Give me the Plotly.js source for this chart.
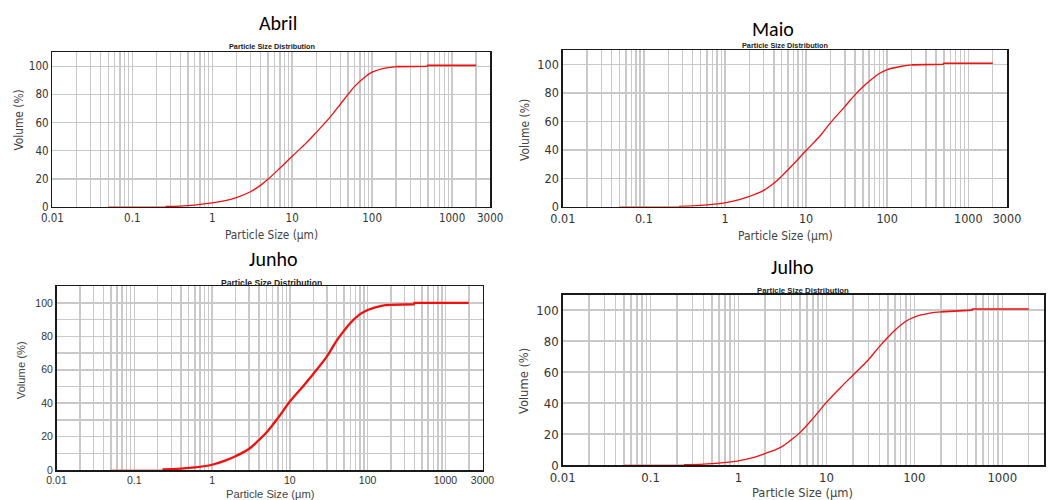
<!DOCTYPE html>
<html>
<head>
<meta charset="utf-8">
<script src="https://cdn.plot.ly/plotly-3.0.1.min.js"></script>
<style>html,body{margin:0;padding:0;background:#fff;}#chart{width:1059px;height:500px;}</style>
</head>
<body>
<div id="chart"></div>
<script>
// ---------------- DATA ----------------
const months = ["Abril", "Maio", "Junho", "Julho"];
const subtitle = "Particle Size Distribution";
const xTitle = "Particle Size (µm)";
const yTitle = "Volume (%)";

// x tick labels
const xLabelVals = [0.01, 0.1, 1, 10, 100, 1000, 3000];
const xLabelText = ["0.01", "0.1", "1", "10", "100", "1000", "3000"];
const yLabelVals = [0, 20, 40, 60, 80, 100];

// zero segment (lighter start of the curve)
const abrilLowX = [0.05, 0.26];  const abrilLowY = [0, 0];
const maioLowX  = [0.05, 0.27];  const maioLowY  = [0, 0];
const junhoLowX = [0.05, 0.23];  const junhoLowY = [0, 0];
const julhoLowX = [0.05, 0.24];  const julhoLowY = [0, 0];

// cumulative volume curves (rising part)
const abrilX = [0.26, 0.4, 0.6, 1, 1.5, 2, 3, 4, 5, 7, 10, 15, 20, 30, 40, 50, 60, 80, 100, 150, 200];
const abrilY = [0.3, 0.6, 1.3, 2.8, 4.6, 6.6, 10.8, 15.3, 19.8, 27.5, 36, 45.5, 53, 64, 73, 80, 85.5, 92, 95.8, 98.8, 99.8];
// plateau part
const abrilPX = [200, 490, 500, 1000, 2000];
const abrilPY = [99.8, 100, 100.7, 100.7, 100.7];

const maioX = [0.27, 0.4, 0.6, 1, 1.5, 2, 3, 4, 5, 7, 10, 15, 20, 30, 40, 50, 60, 80, 100, 150, 200];
const maioY = [0.3, 0.6, 1.3, 2.8, 5, 7.3, 11.5, 16.5, 21.5, 30, 39.5, 50, 59, 70.3, 78.5, 84, 88, 93.5, 96.2, 98.6, 99.5];
const maioPX = [200, 490, 500, 1000, 2000];
const maioPY = [99.5, 100, 100.7, 100.7, 100.7];

const junhoX = [0.23, 0.4, 0.6, 1, 1.5, 2, 3, 4, 5, 7, 10, 15, 20, 30, 40, 50, 60, 80, 100, 150, 200];
const junhoY = [0.4, 0.9, 1.6, 3.2, 5.8, 8.3, 12.8, 18, 22.5, 31, 41, 50.5, 57.5, 68, 77.5, 83.5, 88, 93.3, 95.8, 98.3, 98.8];
const junhoPX = [200, 300, 390, 400, 1000, 2000];
const junhoPY = [98.8, 99, 99.2, 100, 100, 100];

const julhoX = [0.24, 0.4, 0.6, 1, 1.5, 2, 3, 4, 5, 7, 10, 15, 20, 30, 40, 50, 60, 80, 100, 150, 200];
const julhoY = [0.3, 0.7, 1.4, 2.8, 5, 7.5, 11.5, 16.5, 21, 30, 40.5, 51, 58, 68, 76.5, 82.5, 87, 92.8, 95.5, 98, 98.8];
const julhoPX = [200, 300, 450, 460, 1000, 2000];
const julhoPY = [98.8, 99.5, 100, 100.7, 100.7, 100.7];

// ---------------- LAYOUT HELPERS ----------------
const W = 1059, H = 500;
const px = v => v / W;
const py = v => 1 - v / H;

// gridlines: every 1..9 multiple of each decade, plus 2000 and 3000
const decades = [0.01, 0.1, 1, 10, 100];
const mult = [1, 2, 3, 4, 5, 6, 7, 8, 9];
const xGridVals = [];
decades.forEach(d => mult.forEach(m => xGridVals.push(+(d * m).toPrecision(3))));
xGridVals.push(1000, 2000, 3000);
const xGridText = xGridVals.map(v => {
  const i = xLabelVals.indexOf(v);
  return i >= 0 ? xLabelText[i] : "";
});

// panel frames in pixels: [left, right, top, bottom]
const frames = [
  [52.4, 490.2, 52.2, 206.9],
  [562.8, 1007.0, 50.0, 206.8],
  [56.5, 482.5, 286.2, 470.1],
  [562.7, 1044.2, 294.6, 465.2]
];
const tickSize = [11.5, 12.5, 10.5, 13];
const tickFam = ['Tahoma, "DejaVu Sans Condensed", "Liberation Sans", sans-serif',
                 'Tahoma, "DejaVu Sans Condensed", "Liberation Sans", sans-serif',
                 'Arial, "Liberation Sans", sans-serif',
                 'Tahoma, "DejaVu Sans Condensed", "Liberation Sans", sans-serif'];
const lineW = [1.3, 1.3, 2.3, 1.3];
const yMinorStep = [20, 20, 10, 20];

const lowX = [abrilLowX, maioLowX, junhoLowX, julhoLowX];
const lowY = [abrilLowY, maioLowY, junhoLowY, julhoLowY];
const curX = [abrilX, maioX, junhoX, julhoX];
const curY = [abrilY, maioY, junhoY, julhoY];
const platX = [abrilPX, maioPX, junhoPX, julhoPX];
const platY = [abrilPY, maioPY, junhoPY, julhoPY];

const traces = [];
const layout = {
  width: W, height: H,
  margin: {l: 0, r: 0, t: 0, b: 0},
  paper_bgcolor: '#ffffff', plot_bgcolor: '#ffffff',
  showlegend: false,
  annotations: []
};

for (let i = 0; i < 4; i++) {
  const s = i === 0 ? '' : String(i + 1);
  const f = frames[i];
  const yGridVals = [];
  for (let v = 0; v <= 110; v += yMinorStep[i]) yGridVals.push(v);
  const yGridText = yGridVals.map(v => yLabelVals.indexOf(v) >= 0 ? String(v) : "");

  layout['xaxis' + s] = {
    type: 'log', domain: [px(f[0]), px(f[1])], anchor: 'y' + s,
    range: [Math.log10(0.01), Math.log10(3000)],
    tickmode: 'array', tickvals: xGridVals, ticktext: xGridText,
    showgrid: true, gridcolor: '#c9c9c9', gridwidth: 1.5,
    showline: true, linecolor: '#1a1a1a', linewidth: 1.5, mirror: true,
    ticks: '', zeroline: false, fixedrange: true,
    tickfont: {family: tickFam[i], size: tickSize[i], color: '#333333'}
  };
  layout['yaxis' + s] = {
    domain: [py(f[3]), py(f[2])], anchor: 'x' + s,
    range: [0, 110],
    tickmode: 'array', tickvals: yGridVals, ticktext: yGridText,
    showgrid: true, gridcolor: '#c9c9c9', gridwidth: 1.5,
    showline: true, linecolor: '#1a1a1a', linewidth: 1.5, mirror: true,
    ticks: '', zeroline: false, fixedrange: true,
    tickfont: {family: tickFam[i], size: tickSize[i], color: '#333333'}
  };

  traces.push({
    x: lowX[i], y: lowY[i], xaxis: 'x' + s, yaxis: 'y' + s,
    type: 'scatter', mode: 'lines', line: {color: '#ff6b6b', width: 1.4},
    hoverinfo: 'skip', cliponaxis: false
  });
  traces.push({
    x: curX[i], y: curY[i], xaxis: 'x' + s, yaxis: 'y' + s,
    type: 'scatter', mode: 'lines', line: {color: '#f01010', width: lineW[i], shape: 'spline', smoothing: 1},
    cliponaxis: false
  });
  traces.push({
    x: platX[i], y: platY[i], xaxis: 'x' + s, yaxis: 'y' + s,
    type: 'scatter', mode: 'lines', line: {color: '#f01010', width: lineW[i] + (i === 2 ? 0 : 0.4), shape: 'linear'},
    cliponaxis: false
  });
}

// text annotations: [x, y] pixel centers
const titlePos = [[278, 23], [773, 29], [272.7, 259], [792, 267]];
const subPos = [[271.5, 47], [785, 45.5], [271, 283], [803, 290.5]];
const subSize = [7.3, 7.3, 8.6, 7.8];
const xtPos = [[271, 235], [785.6, 236], [270, 494], [802.8, 492.5]];
const ytPos = [[18, 120.5], [525, 130], [20.5, 370.7], [523, 381]];
const axTitleSize = [11.8, 12, 11.2, 12.8];
const axTitleFam = ['Tahoma, "DejaVu Sans Condensed", "Liberation Sans", sans-serif',
                    'Tahoma, "DejaVu Sans Condensed", "Liberation Sans", sans-serif',
                    'Arial, "Liberation Sans", sans-serif',
                    'Tahoma, "DejaVu Sans Condensed", "Liberation Sans", sans-serif'];

function ann(text, p, font, extra) {
  return Object.assign({
    text: text, xref: 'paper', yref: 'paper', x: px(p[0]), y: py(p[1]),
    xanchor: 'center', yanchor: 'middle', showarrow: false, font: font
  }, extra || {});
}

for (let i = 0; i < 4; i++) {
  layout.annotations.push(ann(months[i], titlePos[i], {family: 'Calibri, Carlito, "Open Sans", sans-serif', size: 20, color: '#000000'}));
  layout.annotations.push(ann('<b>' + subtitle + '</b>', subPos[i], {family: '"Liberation Sans Narrow", "Liberation Sans", Arial, sans-serif', size: subSize[i], color: '#222222'}));
  layout.annotations.push(ann(xTitle, xtPos[i], {family: axTitleFam[i], size: axTitleSize[i], color: '#444444'}));
  layout.annotations.push(ann(yTitle, ytPos[i], {family: axTitleFam[i], size: axTitleSize[i], color: '#444444'}, {textangle: -90}));
}

Plotly.newPlot('chart', traces, layout, {displayModeBar: false, staticPlot: true});
</script>
</body>
</html>
